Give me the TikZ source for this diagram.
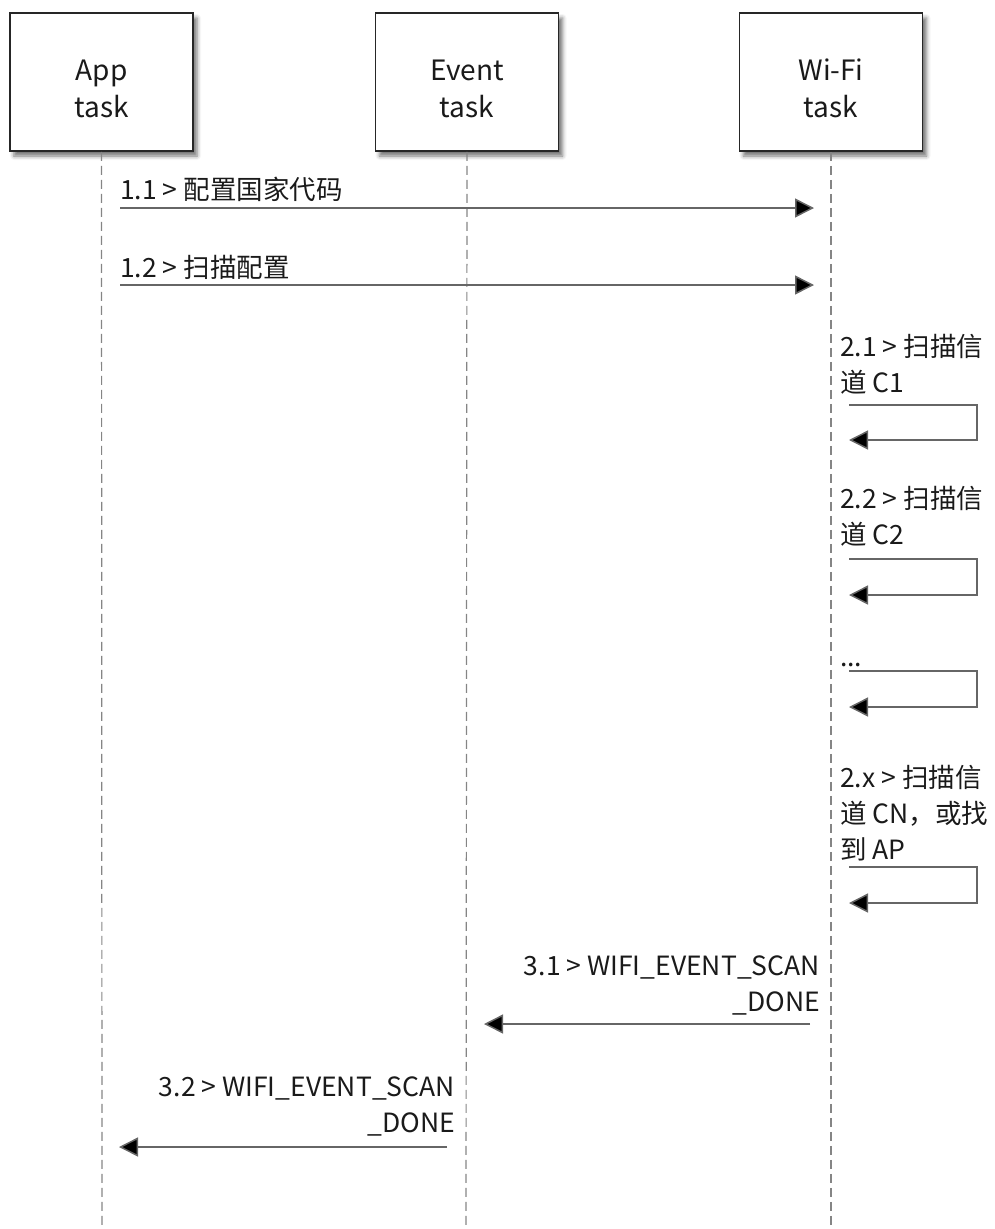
\documentclass[tikz,border=0pt]{standalone}
\usepackage{fontspec}
\setmainfont{Noto Sans CJK SC}
\usetikzlibrary{arrows.meta,shadows.blur}
\definecolor{linec}{HTML}{666666}
\definecolor{txtc}{HTML}{1A1A1A}
\tikzset{
  actor/.style={draw=black!85,line width=1.6pt,fill=white,minimum width=183pt,minimum height=138pt,
    align=center,font={\fontsize{28}{37}\selectfont},text=txtc,
    blur shadow={shadow xshift=4pt,shadow yshift=-5pt,shadow blur radius=4pt,shadow opacity=55}},
  lifeline/.style={draw=linec!80,line width=1.2pt,dash pattern=on 9pt off 5pt},
  msg/.style={draw=linec,line width=1.5pt,-{Triangle[length=19pt,width=19pt,fill=black]}},
  lbl/.style={inner sep=0pt,font={\fontsize{26.5}{36}\selectfont},text=txtc},
}
\begin{document}
\begin{tikzpicture}[x=1pt,y=-1pt]
\useasboundingbox (0,0) rectangle (995,1229);
\node[actor] (app) at (101.5,82) {App\rule{0pt}{34pt}\\task};
\node[actor] (evt) at (467,82) {Event\rule{0pt}{34pt}\\task};
\node[actor] (wifi) at (831,82) {Wi-Fi\rule{0pt}{34pt}\\task};
\coordinate (appE) at (102,1229);
\coordinate (evtE) at (466,1229);
\coordinate (wifiE) at (831,1229);
\draw[lifeline] (app.south) -- (appE);
\draw[lifeline] (evt.south) -- (evtE);
\draw[lifeline] (wifi.south) -- (wifiE);
% 1.1
\coordinate (a1) at (120,208);
\coordinate (w1) at (814,208);
\draw[msg] (a1) -- (w1);
\node[lbl,anchor=base west] (l11) at (120,199) {1.1 > 配置国家代码};
% 1.2
\coordinate (a2) at (120,285);
\coordinate (w2) at (814,285);
\draw[msg] (a2) -- (w2);
\node[lbl,anchor=base west] (l12) at (120,277) {1.2 > 扫描配置};
% self loops
\node[lbl,anchor=base west,align=left] (l21) at (840,392) {2.1 > 扫描信\\道 C1};
\coordinate (s1a) at (849,405);
\coordinate (s1b) at (977,405);
\coordinate (s1c) at (977,440);
\coordinate (s1d) at (849,440);
\draw[msg] (s1a) -- (s1b) -- (s1c) -- (s1d);
\node[lbl,anchor=base west,align=left] (l22) at (840,544) {2.2 > 扫描信\\道 C2};
\coordinate (s2a) at (849,559);
\coordinate (s2b) at (977,559);
\coordinate (s2c) at (977,595);
\coordinate (s2d) at (849,595);
\draw[msg] (s2a) -- (s2b) -- (s2c) -- (s2d);
\node[lbl,anchor=base west] (ldots) at (840,666) {...};
\coordinate (s3a) at (849,671);
\coordinate (s3b) at (977,671);
\coordinate (s3c) at (977,707);
\coordinate (s3d) at (849,707);
\draw[msg] (s3a) -- (s3b) -- (s3c) -- (s3d);
\node[lbl,anchor=base west,align=left] (l2x) at (840,859) {2.x > 扫描信\\道 CN，或找\\到 AP};
\coordinate (s4a) at (849,867);
\coordinate (s4b) at (977,867);
\coordinate (s4c) at (977,903);
\coordinate (s4d) at (849,903);
\draw[msg] (s4a) -- (s4b) -- (s4c) -- (s4d);
% 3.1
\node[lbl,anchor=base east,align=right] (l31) at (820,1011) {3.1 > WIFI\_EVENT\_SCAN\\\_DONE};
\coordinate (w31) at (810,1024);
\coordinate (e31) at (484,1024);
\draw[msg] (w31) -- (e31);
% 3.2
\node[lbl,anchor=base east,align=right] (l32) at (455,1132) {3.2 > WIFI\_EVENT\_SCAN\\\_DONE};
\coordinate (e32) at (447,1147);
\coordinate (a32) at (119,1147);
\draw[msg] (e32) -- (a32);
\end{tikzpicture}
\end{document}
